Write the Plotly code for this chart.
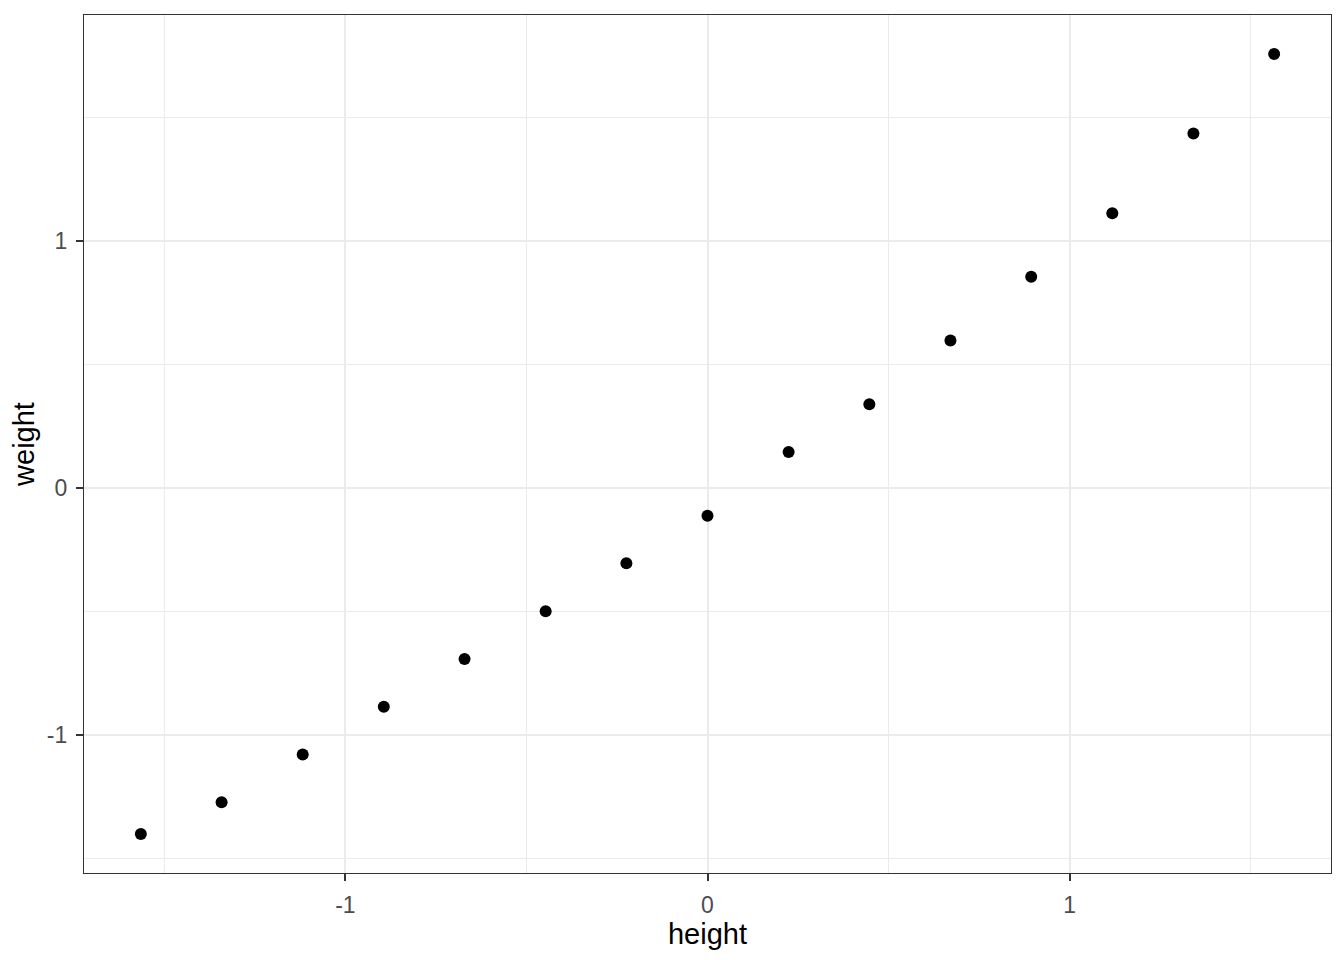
import plotly.graph_objects as go

height = [-1.565, -1.342, -1.118, -0.894, -0.671, -0.447, -0.224, 0.0,
          0.224, 0.447, 0.671, 0.894, 1.118, 1.342, 1.565]
weight = [-1.402, -1.273, -1.080, -0.886, -0.693, -0.499, -0.305, -0.112,
          0.146, 0.340, 0.598, 0.856, 1.114, 1.437, 1.759]
tick_vals = [-1, 0, 1]
tick_text = ["-1", "0", "1"]

fig = go.Figure(go.Scatter(
    x=height, y=weight, mode="markers",
    marker=dict(color="black", size=12, line=dict(width=0)),
))

axis_common = dict(
    showline=True, linecolor="#333333", linewidth=1.4, mirror=True,
    ticks="outside", ticklen=7, tickcolor="#333333", tickwidth=1.6,
    tickvals=tick_vals, ticktext=tick_text,
    tickfont=dict(family="Liberation Sans", size=23, color="#4D4D4D"),
    showgrid=True, gridcolor="#EBEBEB", gridwidth=2,
    zeroline=False,
    minor=dict(dtick=0.5, tick0=0, showgrid=True, gridcolor="#EBEBEB", gridwidth=1, ticks=""),
    title_font=dict(family="Liberation Sans", size=29, color="black"),
)

fig.update_xaxes(axis_common, range=[-1.722, 1.722], title_text="height",
                 title_standoff=4, ticklabelstandoff=4)
fig.update_yaxes(axis_common, range=[-1.560, 1.917], title_text="weight",
                 title_standoff=8, ticklabelstandoff=4)

fig.update_layout(
    width=1344, height=960,
    margin=dict(l=76, r=21, t=7, b=95),
    plot_bgcolor="white", paper_bgcolor="white",
    showlegend=False,
)

fig.write_html("out.html")
